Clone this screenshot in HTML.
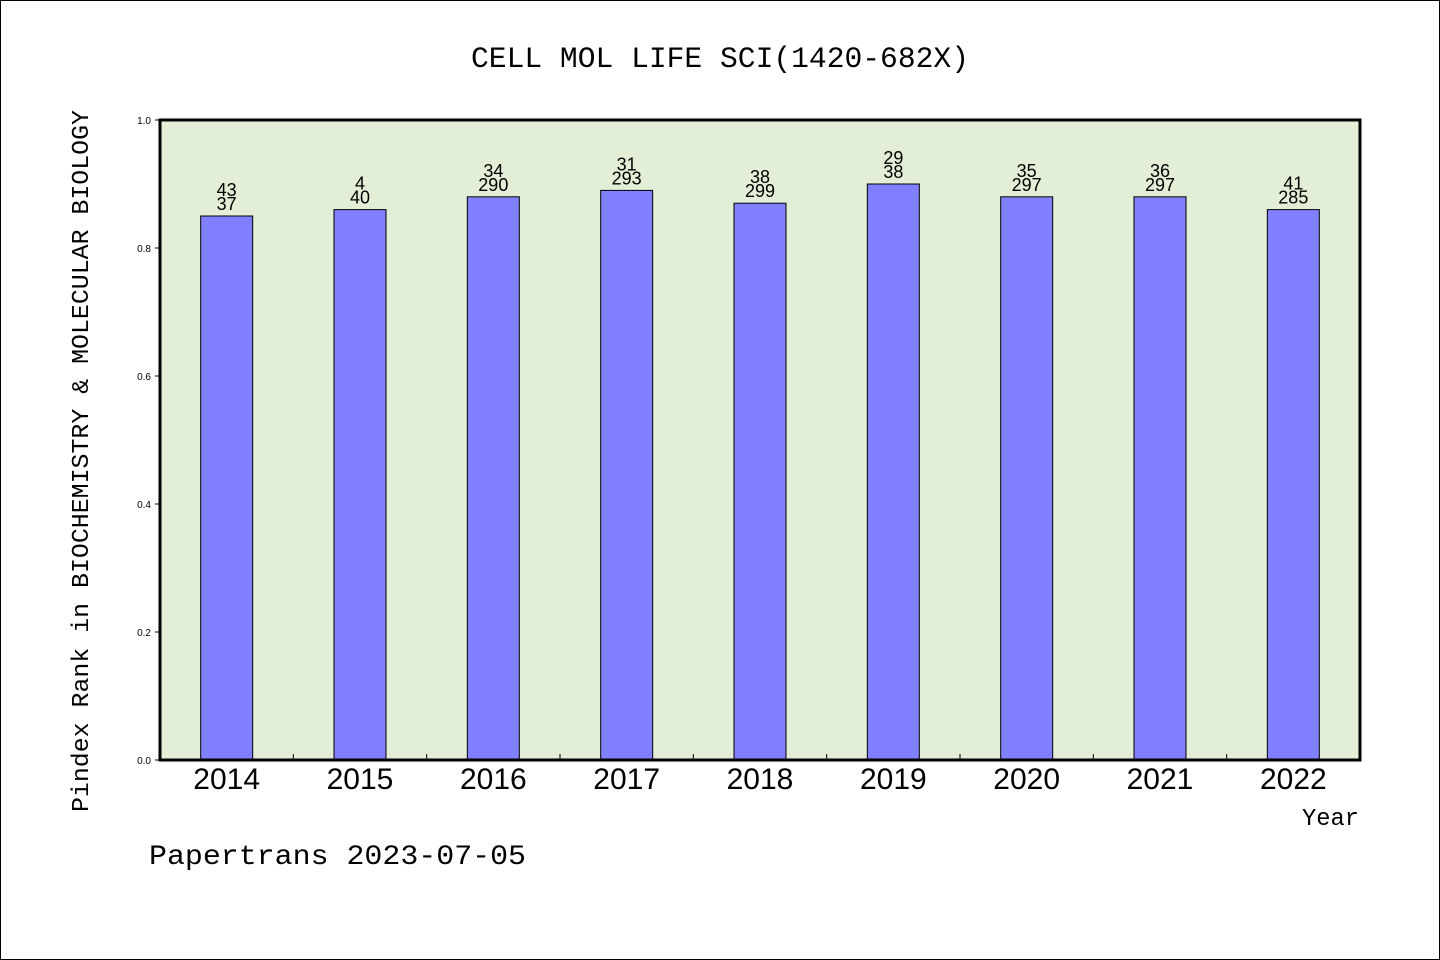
<!DOCTYPE html>
<html><head><meta charset="utf-8"><style>
html,body{margin:0;padding:0;background:#fff}
svg{display:block}
text{font-family:"Liberation Sans","DejaVu Sans",sans-serif;fill:#000}
.mono{font-family:"Liberation Mono","DejaVu Sans Mono",monospace}
</style></head><body>
<svg id="chart" width="1440" height="960" xmlns="http://www.w3.org/2000/svg">
<rect x="0.5" y="0.5" width="1439" height="959" fill="#fff" stroke="#000"/>
<text class="mono" x="471" y="67" font-size="30" textLength="498" lengthAdjust="spacingAndGlyphs">CELL MOL LIFE SCI(1420-682X)</text>
<rect x="160" y="120" width="1200" height="640" fill="#e2efd6"/>
<g id="bars"></g>
<rect x="160" y="120" width="1200" height="640" fill="none" stroke="#000" stroke-width="3"/>
<g id="axes"></g>
<text class="mono" transform="translate(88,812) rotate(-90)" font-size="24" textLength="702" lengthAdjust="spacingAndGlyphs">Pindex Rank in BIOCHEMISTRY &amp; MOLECULAR BIOLOGY</text>
<text class="mono" x="1302" y="825" font-size="24" textLength="57" lengthAdjust="spacingAndGlyphs">Year</text>
<text class="mono" x="149" y="864" font-size="28" textLength="377" lengthAdjust="spacingAndGlyphs">Papertrans 2023-07-05</text>
</svg>
<script>
const years = ["2014","2015","2016","2017","2018","2019","2020","2021","2022"];
const values = [0.85,0.86,0.88,0.89,0.87,0.90,0.88,0.88,0.86];
const topLabels = ["43","4","34","31","38","29","35","36","41"];
const bottomLabels = ["37","40","290","293","299","38","297","297","285"];
const yTicks = ["0.0","0.2","0.4","0.6","0.8","1.0"];

const NS="http://www.w3.org/2000/svg";
const X0=160,W=1200,Y0=760,H=640;
const band=W/years.length;
const xc=i=>X0+band*(i+0.5);
const y=v=>Y0-v*H;
function mk(tag,attrs,parent,txt){const e=document.createElementNS(NS,tag);for(const k in attrs)e.setAttribute(k,attrs[k]);if(txt!==undefined)e.textContent=txt;parent.appendChild(e);return e;}
const bars=document.getElementById('bars'),axes=document.getElementById('axes');
years.forEach((yr,i)=>{
  const top=y(values[i]);
  const r=mk('rect',{x:xc(i)-26,y:top,width:52,height:Y0-top,fill:'#8080ff',stroke:'#000','stroke-width':1},bars);
  
  
  const t1=mk('text',{x:xc(i),y:top-20,'font-size':18,'text-anchor':'middle'},bars,topLabels[i]);
  
  
  const t2=mk('text',{x:xc(i),y:top-6,'font-size':18,'text-anchor':'middle'},bars,bottomLabels[i]);
  
  
  const xl=mk('text',{x:xc(i),y:789,'font-size':30,'text-anchor':'middle'},axes,yr);
  
  
  if(i>0){
    const tk=mk('line',{x1:X0+band*i,x2:X0+band*i,y1:Y0,y2:Y0-6,stroke:'#000','stroke-width':1},axes);
    
    
  }
});
yTicks.forEach(t=>{
  const v=parseFloat(t);
  const tk=mk('line',{x1:X0-5,x2:X0,y1:y(v),y2:y(v),stroke:'#000','stroke-width':1},axes);
  
  
  const l=mk('text',{x:151,y:y(v)+4,'font-size':10,'text-anchor':'end'},axes,t);
  
  
});
</script>
</body></html>
